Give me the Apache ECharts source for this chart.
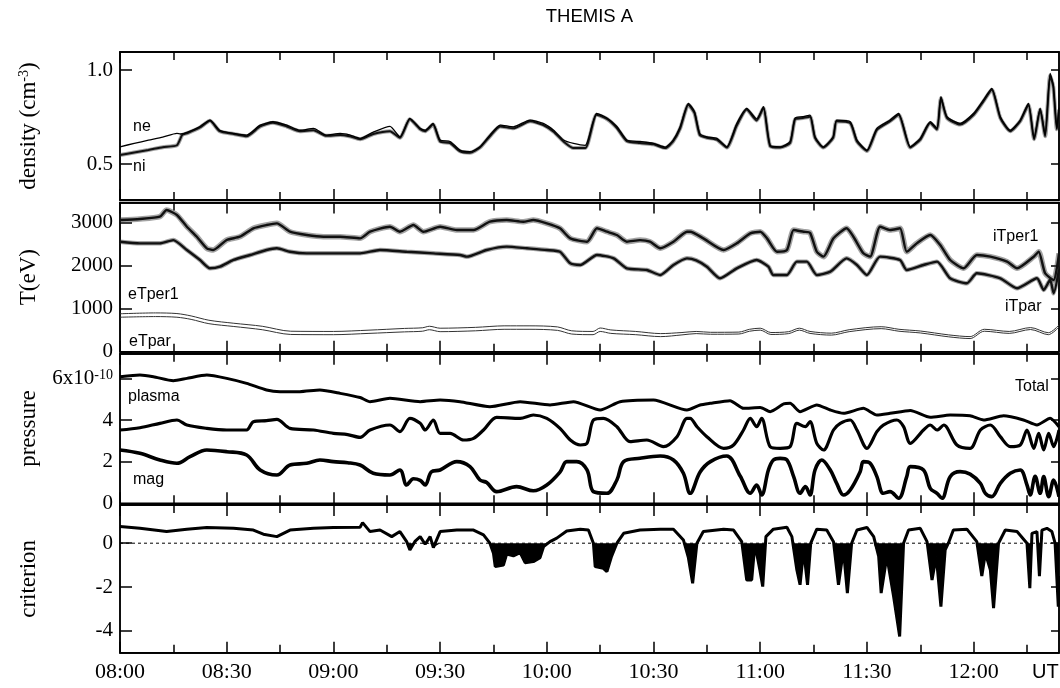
<!DOCTYPE html>
<html>
<head>
<meta charset="utf-8">
<title>THEMIS A</title>
<script src="https://cdn.jsdelivr.net/npm/echarts@6.0.0/dist/echarts.min.js"></script>
<style>
html, body { margin: 0; padding: 0; background: #fff; }
#main { width: 1060px; height: 688px; }
</style>
</head>
<body>
<div id="main"></div>
<script>
// all series: [minutes after 08:00 UT, value]
var ne = [[0,0.592],[4,0.61],[8,0.627],[12,0.643],[16,0.663],[17,0.66],[19,0.67],[22.5,0.70],[25.3,0.734],[28,0.68],[32,0.663],[35.6,0.654],[39.4,0.707],[43,0.725],[46.9,0.707],[50.6,0.68],[54.4,0.69],[58,0.654],[61.9,0.663],[64.5,0.655],[67.5,0.637],[71.2,0.67],[75.9,0.70],[78.7,0.645],[81.5,0.743],[84.4,0.69],[85.8,0.68],[88,0.716],[90,0.628],[92.8,0.62],[95.6,0.574],[98.4,0.566],[101.2,0.592],[104,0.654],[106.9,0.707],[110.6,0.698],[115.3,0.734],[119,0.716],[121.9,0.68],[124.7,0.628],[127.5,0.61],[130.8,0.60],[134,0.77],[136.9,0.745],[139.7,0.70],[142.5,0.628],[146.2,0.62],[150,0.61],[153.3,0.59],[155.5,0.628],[157.5,0.70],[159.8,0.823],[161.5,0.78],[163,0.663],[165,0.645],[167.8,0.637],[170.6,0.592],[173.4,0.716],[176.2,0.796],[179,0.74],[180.9,0.805],[182.8,0.60],[185.6,0.592],[188.4,0.62],[189.8,0.745],[192,0.752],[194,0.76],[195.4,0.645],[197.7,0.592],[200.5,0.645],[201.5,0.734],[205.3,0.725],[207.2,0.628],[210,0.574],[212.8,0.69],[216.5,0.734],[218.9,0.77],[222.2,0.592],[225,0.637],[227.8,0.725],[229.7,0.69],[230.8,0.858],[232.5,0.752],[236.2,0.716],[240,0.77],[242.7,0.84],[245.1,0.903],[247.5,0.752],[250.3,0.68],[253.1,0.734],[255.4,0.823],[257,0.637],[258.7,0.796],[260.1,0.654],[261.5,0.982],[262.4,0.92],[263.4,0.69],[264,0.80]];
var ni = [[0,0.548],[4,0.562],[8,0.575],[12,0.59],[16,0.60],[17.5,0.655],[19,0.665],[22.5,0.695],[25.3,0.73],[28,0.675],[32,0.66],[35.6,0.648],[39.4,0.70],[43,0.72],[46.9,0.70],[50.6,0.675],[54.4,0.68],[58,0.65],[61.9,0.655],[64.5,0.648],[67.5,0.632],[71.2,0.66],[75.9,0.675],[78.7,0.64],[81.5,0.738],[84.4,0.685],[85.8,0.675],[88,0.71],[90,0.62],[92.8,0.612],[95.6,0.568],[98.4,0.56],[101.2,0.588],[104,0.648],[106.9,0.70],[110.6,0.69],[115.3,0.728],[119,0.708],[121.9,0.672],[124.7,0.62],[127.5,0.585],[130.8,0.585],[134,0.762],[136.9,0.74],[139.7,0.692],[142.5,0.622],[146.2,0.612],[150,0.605],[153.3,0.585],[155.5,0.62],[157.5,0.69],[159.8,0.815],[161.5,0.772],[163,0.655],[165,0.64],[167.8,0.63],[170.6,0.588],[173.4,0.705],[176.2,0.79],[179,0.732],[180.9,0.798],[182.8,0.595],[185.6,0.588],[188.4,0.612],[189.8,0.738],[192,0.745],[194,0.752],[195.4,0.64],[197.7,0.588],[200.5,0.64],[201.5,0.728],[205.3,0.718],[207.2,0.62],[210,0.57],[212.8,0.682],[216.5,0.728],[218.9,0.762],[222.2,0.588],[225,0.63],[227.8,0.718],[229.7,0.684],[230.8,0.85],[232.5,0.745],[236.2,0.71],[240,0.762],[242.7,0.832],[245.1,0.895],[247.5,0.745],[250.3,0.675],[253.1,0.728],[255.4,0.815],[257,0.632],[258.7,0.79],[260.1,0.648],[261.5,0.97],[262.4,0.91],[263.4,0.685],[264,0.79]];

var iTper1 = [[0,3056],[5.6,3080],[11.2,3132],[13.1,3288],[16,3172],[18.8,2900],[21.6,2668],[24.4,2399],[26.2,2360],[30,2592],[33.7,2668],[37.5,2863],[41.2,2940],[44.1,2978],[47.8,2784],[52.5,2707],[57.2,2668],[61.9,2668],[67.5,2630],[70.3,2784],[75.9,2900],[78.7,2784],[82.5,2940],[85.3,2784],[90,2900],[94.7,2823],[99.4,2823],[104,3016],[108.7,3056],[113.4,3016],[116.2,3056],[120,2978],[123.7,2863],[126.6,2630],[131.3,2552],[134.1,2863],[136.9,2784],[139.7,2707],[142.5,2552],[146.2,2590],[149,2552],[151.9,2399],[155.6,2552],[159.4,2784],[160.3,2784],[164,2630],[169.7,2360],[173.4,2514],[177.2,2745],[180,2784],[181.9,2630],[184.7,2320],[187.5,2360],[189.4,2823],[192.2,2784],[194,2760],[195.9,2320],[197.8,2205],[200.6,2630],[204.3,2863],[206.2,2668],[209,2282],[210.9,2205],[213.7,2900],[216.5,2823],[219.3,2863],[221.2,2320],[224,2514],[227.8,2707],[230.6,2476],[233.4,2128],[237.2,1935],[240.9,2244],[244.7,2205],[249.4,2089],[252.2,1935],[256.9,2205],[258.3,2320],[260.1,1819],[262.5,1664],[264,2282]];
var iTpar = [[0,2552],[5.6,2514],[11.2,2514],[15,2590],[18.8,2360],[22.5,2128],[25.3,1935],[28.1,1973],[31.9,2128],[36.6,2244],[41.2,2360],[44.1,2399],[47.8,2320],[52.5,2282],[60,2282],[67.5,2282],[73.1,2360],[80.6,2320],[88.1,2282],[95.6,2244],[97.5,2205],[103.1,2360],[108.7,2437],[114.4,2399],[120,2360],[123.7,2320],[126.6,2050],[129.4,2012],[134.1,2244],[138.8,2166],[142.5,1935],[148.1,1896],[151.9,1780],[155.6,2012],[159.4,2166],[162,2120],[165,1973],[168.7,1703],[173.4,1935],[179,2128],[182.3,1973],[183.7,1780],[187.5,1780],[190.3,2089],[193.1,2089],[195.9,1780],[199.7,1857],[204.3,2166],[207.2,2012],[210,1780],[213.7,2205],[219.3,2128],[221.2,1896],[225.9,2012],[229.7,2089],[233.4,1703],[238.1,1587],[240.9,1819],[247.5,1703],[252.2,1471],[257.8,1703],[259.7,1432],[261.5,1664],[262.5,1355],[264,1900]];
var eTper1 = [[0,880],[10,900],[16,885],[20,830],[25,730],[32,660],[40,590],[48,475],[60,470],[70,500],[80,540],[85,555],[87,590],[90,545],[100,565],[108,600],[115,600],[123,575],[127,485],[133,470],[135,550],[138,505],[145,470],[152,420],[158,445],[162,470],[166,450],[174,455],[177,520],[180,545],[183,445],[188,465],[191,545],[194,470],[200,430],[205,510],[214,580],[219,520],[225,480],[233,390],[239,350],[243,520],[250,470],[256,560],[261,440],[264,620]];
var eTpar = [[0,800],[10,815],[16,800],[20,750],[25,650],[32,585],[40,510],[48,400],[60,395],[70,425],[80,460],[85,475],[87,510],[90,465],[100,485],[108,520],[115,520],[123,495],[127,410],[133,395],[135,470],[138,425],[145,395],[152,350],[158,390],[162,420],[166,405],[174,410],[177,475],[180,500],[183,400],[188,420],[191,500],[194,425],[200,385],[205,465],[214,535],[219,475],[225,435],[233,345],[239,305],[243,475],[250,425],[256,515],[261,395],[264,575]];

var total = [[0,6.08],[5.6,6.16],[9.4,6.08],[15,5.89],[18.8,6.0],[24.4,6.16],[30,6.0],[35.6,5.76],[41.2,5.44],[45,5.36],[50.6,5.36],[56.2,5.44],[61.9,5.28],[67.5,5.08],[70.3,4.88],[75.9,5.04],[84.4,4.88],[90,4.96],[95.6,4.88],[104,4.64],[112.5,4.88],[120.9,4.72],[127.5,4.88],[135,4.48],[140.6,4.88],[150,4.96],[159.4,4.48],[163.1,4.72],[165.9,4.8],[171.5,4.93],[175.3,4.56],[180,4.6],[182.8,4.4],[186.6,4.77],[188.4,4.8],[191.2,4.4],[195.9,4.72],[199.7,4.48],[203.4,4.32],[209,4.56],[212.8,4.24],[216.5,4.32],[222.2,4.46],[227.8,4.13],[233.4,4.24],[239,4.2],[242.8,4.0],[248.4,4.2],[254,4.0],[257.8,3.76],[261.5,4.08],[264,3.68]];
var plasma = [[0,3.52],[5.6,3.63],[11.2,3.84],[16,4.0],[18.8,3.76],[24.4,3.6],[30,3.52],[35.6,3.52],[37.5,3.92],[41.2,3.97],[44.1,4.03],[47.8,3.6],[54.4,3.52],[60,3.36],[64,3.3],[67.5,3.17],[70.3,3.52],[75.9,3.76],[78.7,3.44],[81.5,4.08],[84.4,3.84],[85.8,3.52],[88.1,4.0],[90,3.36],[92.8,3.36],[96.6,3.04],[99.4,3.12],[102.2,3.52],[105.9,4.13],[112.5,4.08],[116.2,4.24],[120,4.08],[123.7,3.6],[126.6,3.04],[129.4,2.8],[131.3,2.88],[133.1,4.0],[135.9,4.08],[139.7,3.68],[143.4,2.96],[148.1,3.04],[152.8,2.72],[156.6,3.2],[159.4,4.08],[160.3,4.08],[162.2,3.68],[165,3.2],[169.7,2.64],[172.5,2.8],[175.3,3.52],[177.2,4.08],[179,3.68],[180.4,4.08],[182.8,2.72],[185.6,2.64],[188.4,2.72],[190.3,3.84],[192.7,3.68],[194,3.92],[195.9,2.88],[197.8,2.56],[200.6,3.52],[202.5,3.84],[205.3,4.0],[207.2,3.52],[210,2.64],[212.8,3.44],[214.6,3.76],[218.4,4.0],[220.3,3.68],[222.2,2.88],[225.9,3.52],[227.8,3.76],[229.7,3.52],[231.6,3.76],[235.3,2.8],[239,2.64],[241.9,3.52],[244.7,3.76],[247.5,3.2],[250.3,2.72],[253.1,2.8],[255,3.52],[256.9,2.64],[258.3,3.36],[259.7,2.56],[261.1,3.36],[262.5,2.72],[264,3.52]];
var mag = [[0,2.56],[5.6,2.4],[11.2,2.08],[16,1.92],[19.7,2.24],[24.4,2.56],[30,2.48],[35.6,2.32],[39.4,1.6],[44.1,1.36],[47.8,1.84],[52.5,1.92],[56.2,2.08],[60,2.0],[64,1.95],[67.5,1.84],[71.2,1.44],[75.9,1.36],[78.7,1.6],[80.6,0.88],[82.5,1.18],[84.4,1.1],[85.8,0.88],[87.5,1.5],[90,1.6],[94.7,2.0],[98.4,1.76],[101.2,1.12],[103.1,1.0],[105.9,0.56],[111.5,0.8],[116.2,0.6],[120,0.88],[123.7,1.5],[125.6,2.0],[128.4,2.0],[131.3,1.6],[133.1,0.56],[136.9,0.48],[139.7,1.12],[141.6,2.0],[146.2,2.16],[151.9,2.27],[155.6,2.08],[158.4,1.44],[160.3,0.48],[163.1,1.5],[166,2.0],[170.6,2.27],[174.4,1.3],[177.2,0.48],[179,0.88],[180.4,0.4],[182.3,1.6],[183.7,2.08],[185.6,2.16],[187.5,2.08],[189.4,1.28],[191.2,0.48],[192.7,0.8],[194,0.4],[195.4,1.6],[197.3,2.08],[199.7,1.6],[201.5,0.96],[203.4,0.4],[205.3,0.64],[208.1,1.52],[209,2.0],[210.9,1.92],[212.8,1.28],[214.6,0.48],[216.5,0.56],[218.9,0.24],[221.2,1.28],[222.2,1.76],[225.9,1.6],[227.8,0.72],[229.7,0.48],[231.1,0.24],[233.4,1.28],[236.2,1.52],[239,1.4],[241.9,0.96],[243.3,0.48],[245.1,0.32],[247.5,0.96],[250.3,1.44],[253.1,1.6],[255,0.88],[255.9,0.4],[257.3,1.3],[258.7,0.48],[259.7,1.28],[261.1,0.32],[262.5,1.12],[264,0.32]];

var criterion = [[0,0.76],[5.6,0.68],[13.1,0.53],[18.8,0.64],[24.4,0.72],[31.9,0.68],[37.5,0.6],[40.3,0.41],[44.1,0.3],[47.8,0.6],[54.4,0.68],[60,0.72],[67.5,0.73],[68.2,0.94],[70.3,0.53],[73.1,0.6],[76.4,0.3],[78.7,0.53],[80.6,0.07],[81.5,-0.31],[83,0.1],[84.4,0.3],[85.8,-0.05],[87.2,0.3],[88.1,-0.2],[90,0.53],[94.7,0.6],[99.4,0.6],[102.2,0.38],[104,0],[105,-0.46],[105.5,-1.07],[107.8,-1.0],[108.7,-0.5],[110.6,-0.58],[112.5,-0.43],[113.9,-0.89],[116.2,-0.84],[118.1,-0.66],[119.1,-0.15],[120.9,0.07],[122.8,0.23],[125.6,0.56],[129.4,0.64],[131.7,0.6],[133.1,0],[133.6,-1.07],[135.9,-1.15],[136.9,-1.3],[138.2,-0.6],[139.7,0],[141.6,0.45],[146.2,0.6],[151.9,0.64],[155.6,0.64],[158.4,0.15],[159.8,-0.66],[161,-1.83],[162.2,0],[164,0.53],[169.7,0.64],[172.5,0.6],[174.8,0.07],[176.2,-1.68],[177.6,-1.68],[178.5,-0.05],[179.9,-1.22],[180.7,-1.98],[181.6,0.3],[183.7,0.64],[187.5,0.73],[188.9,0.3],[190.3,-1.22],[191.2,-1.9],[192.2,-0.3],[193.3,-1.9],[194.2,0],[195.9,0.64],[198.7,0.6],[200.6,0.07],[202,-1.9],[203.4,-0.3],[204.5,-2.28],[205.7,0],[207.2,0.6],[210,0.72],[211.9,0.3],[213.3,-0.6],[214,-2.28],[215.6,-0.6],[217.5,-2.43],[219.2,-4.26],[220.3,0],[221.7,0.6],[225,0.68],[226.9,0.07],[228.3,-1.68],[229.5,-0.6],[230.8,-2.9],[232,-0.3],[232.9,0],[234.3,0.6],[238.1,0.64],[240.9,0.07],[242.3,-1.5],[243.3,-0.46],[244.7,-1.22],[245.6,-2.97],[247,0],[248.9,0.6],[252.2,0.53],[255,0],[255.8,-2.05],[256.4,0.45],[257.8,0.53],[258.5,-1.5],[259.2,0.6],[260.6,0.68],[262,0.53],[262.9,0],[263.8,-2.9],[264,-1.5]];

var xMajor = [0, 30, 60, 90, 120, 150, 180, 210, 240];
var xMinor = [15, 45, 75, 105, 135, 165, 195, 225, 255];
var xMax = 264;

var serif = 'Liberation Serif';
var sans = 'Liberation Sans';

var panels = [
    {top: 52, height: 148, min: 0.309, max: 1.096, ticks: [0.5, 1.0],
     name: '{a|density (cm}{s|-3}{a|)}', fmt: function (v) { return v.toFixed(1); }},
    {top: 202.5, height: 149.2, min: 0, max: 3462, ticks: [0, 1000, 2000, 3000],
     name: 'T(eV)', fmt: function (v) { return String(v); }},
    {top: 353.8, height: 149.5, min: 0, max: 7.18, ticks: [0, 2, 4, 6],
     name: 'pressure', fmt: function (v) { return v === 6 ? '6x10{s|-10}' : String(v); }},
    {top: 505, height: 147.7, min: -5, max: 1.744, ticks: [-4, -2, 0],
     name: 'criterion', fmt: function (v) { return String(v); }}
];

function hhmm(v) {
    var m = 480 + v;
    var h = Math.floor(m / 60), mm = m % 60;
    return (h < 10 ? '0' : '') + h + ':' + (mm < 10 ? '0' : '') + mm;
}

function xAxis(gi, pos, ticks, len, labels) {
    return {
        type: 'value', gridIndex: gi, position: pos, min: 0, max: xMax,
        axisLine: {show: true, onZero: false, lineStyle: {color: '#000', width: 1.5}},
        axisTick: {show: true, inside: true, length: len, customValues: ticks,
                   lineStyle: {color: '#000', width: 1.5}},
        axisLabel: {show: labels, customValues: xMajor, formatter: hhmm,
                    fontFamily: serif, fontSize: 22, color: '#000', margin: 9},
        splitLine: {show: false}
    };
}

function yAxis(gi, pos, p, len, labels) {
    return {
        type: 'value', gridIndex: gi, position: pos, min: p.min, max: p.max,
        axisLine: {show: true, onZero: false, lineStyle: {color: '#000', width: 1.5}},
        axisTick: {show: true, inside: true, length: len, customValues: p.ticks,
                   lineStyle: {color: '#000', width: 1.5}},
        axisLabel: {show: labels, customValues: p.ticks, formatter: p.fmt,
                    fontFamily: serif, fontSize: 21, color: '#000', margin: 7,
                    rich: {s: {fontFamily: serif, fontSize: 14, verticalAlign: 'top'}}},
        splitLine: {show: false},
        name: labels ? p.name : '', nameLocation: 'middle', nameGap: 80, nameRotate: 90,
        nameTextStyle: {fontFamily: serif, fontSize: 23, color: '#000',
                        rich: {a: {fontFamily: serif, fontSize: 23},
                               s: {fontFamily: serif, fontSize: 14, verticalAlign: 'top'}}}
    };
}

var grids = [], xAxes = [], yAxes = [];
panels.forEach(function (p, i) {
    grids.push({left: 120, width: 939, top: p.top, height: p.height, show: true,
                borderColor: '#000', borderWidth: 1.5, outerBoundsMode: 'none'});
    xAxes.push(xAxis(i, 'bottom', xMajor, 11, i === 3));
    xAxes.push(xAxis(i, 'bottom', xMinor, 8, false));
    xAxes.push(xAxis(i, 'top', xMajor, 11, false));
    xAxes.push(xAxis(i, 'top', xMinor, 8, false));
    yAxes.push(yAxis(i, 'left', p, 12, true));
    yAxes.push(yAxis(i, 'right', p, 8, false));
});

function line(gi, name, data, width, color, smooth, opacity) {
    return {
        name: name, type: 'line', xAxisIndex: gi * 4, yAxisIndex: gi * 2,
        data: data, symbol: 'none', silent: true, clip: true, smooth: smooth || false,
        lineStyle: {width: width, color: color, opacity: opacity == null ? 1 : opacity}
    };
}

var critFill = criterion.map(function (d) { return [d[0], Math.min(d[1], 0)]; });

var series = [
    // soft halos stand in for the measurement scatter around the noisy traces
    line(0, 'ni halo', ni, 4, '#333', 0.2, 0.45),
    line(0, 'ni', ni, 2, '#111', 0.2),
    line(0, 'ne', ne, 1.3, '#000', 0.2),
    line(1, 'iTper1 halo', iTper1, 5.5, '#333', 0.2, 0.45),
    line(1, 'iTpar halo', iTpar, 4.5, '#333', 0.2, 0.45),
    line(1, 'iTper1', iTper1, 2.4, '#111', 0.2),
    line(1, 'iTpar', iTpar, 2.4, '#111', 0.2),
    line(1, 'eTper1', eTper1, 1, '#333', 0.3),
    line(1, 'eTpar', eTpar, 1, '#333', 0.3),
    line(2, 'Total', total, 3, '#000', 0.2),
    line(2, 'plasma', plasma, 3.2, '#000', 0.3),
    line(2, 'mag', mag, 3.6, '#000', 0.35),
    {
        name: 'fill', type: 'line', xAxisIndex: 12, yAxisIndex: 6, data: critFill,
        symbol: 'none', silent: true, lineStyle: {width: 0, opacity: 0},
        areaStyle: {color: '#000', opacity: 1, origin: 'auto'}
    },
    {
        name: 'zero', type: 'line', xAxisIndex: 12, yAxisIndex: 6, data: [[0, 0], [xMax, 0]],
        symbol: 'none', silent: true, lineStyle: {width: 1, color: '#000', type: [3, 3]}
    },
    line(3, 'criterion', criterion, 3, '#000')
];

function label(text, x, y, size) {
    return {type: 'text', x: x, y: y, silent: true,
            style: {text: text, fill: '#000', font: (size || 16) + 'px "' + sans + '"',
                    align: 'left', verticalAlign: 'middle'}};
}

var chart = echarts.init(document.getElementById('main'));
chart.setOption({
    animation: false,
    backgroundColor: '#fff',
    grid: grids,
    xAxis: xAxes,
    yAxis: yAxes,
    series: series,
    graphic: [
        {type: 'text', x: 589.5, y: 17, silent: true,
         style: {text: 'THEMIS A', fill: '#000', font: '18.5px "' + sans + '"',
                 align: 'center', verticalAlign: 'middle'}},
        label('ne', 133, 127),
        label('ni', 133, 167),
        label('eTper1', 128, 295),
        label('eTpar', 129, 342),
        label('iTper1', 993, 237),
        label('iTpar', 1005, 307),
        label('plasma', 128, 397),
        label('Total', 1015, 387),
        label('mag', 133, 480),
        label('UT', 1032, 672, 20)
    ]
});
</script>
</body>
</html>
